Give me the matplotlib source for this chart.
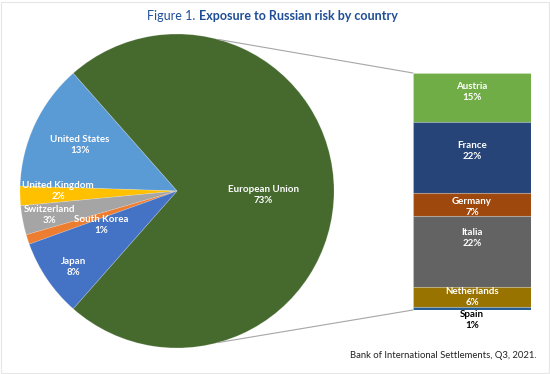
import numpy as np
import matplotlib.pyplot as plt
from matplotlib.patches import ConnectionPatch, Rectangle

# donnees
pie_labels = ['European Union', 'United States', 'United Kingdom', 'Switzerland', 'South Korea', 'Japan']
pie_values = [73, 13, 2, 3, 1, 8]
eu_labels = ['Austria', 'France', 'Germany', 'Italia', 'Netherlands', 'Spain']
eu_values = [15, 22, 7, 22, 6, 1]

pie_colors = ['#466A2E', '#5B9BD5', '#FFC000', '#A5A5A5', '#ED7D31', '#4472C4']
eu_colors = ['#70AD47', '#264478', '#9E480E', '#636363', '#997300', '#255E91']

# positions des etiquettes (mise en page)
pie_label_pos = [(0.548, -0.025), (-0.618, 0.293), (-0.758, 0.0),
                 (-0.809, -0.153), (-0.484, -0.217), (-0.662, -0.484)]
eu_label_y = [5.8, 24.0, 41.2, 50.8, 68.9, 76.0]

plt.rcParams['font.family'] = ['Lato', 'DejaVu Sans']

fig = plt.figure(figsize=(5.5, 3.74), dpi=100)
fig.patch.set_facecolor('white')
fig.add_artist(Rectangle((0.002, 0.004), 0.996, 0.99, transform=fig.transFigure,
                         fill=False, edgecolor='#E6E6E6', lw=0.8))

# camembert principal
ax_pie = fig.add_axes([20 / 550, 26 / 374, 314 / 550, 314 / 374])
ang = 360 * pie_values[0] / 100 / 2
ax_pie.pie(pie_values, colors=pie_colors, startangle=-ang, radius=1,
           wedgeprops=dict(edgecolor=(1, 1, 1, 0.2), linewidth=0.6))
ax_pie.set_xlim(-1, 1)
ax_pie.set_ylim(-1, 1)
ax_pie.set_aspect('equal')
ax_pie.axis('off')

for lab, val, (x, y) in zip(pie_labels, pie_values, pie_label_pos):
    ax_pie.text(x, y, f'{lab}\n{val}%', ha='center', va='center', color='white',
                fontsize=7, fontweight='bold', linespacing=1.25)

# barre empilee pour l'UE
ax_bar = fig.add_axes([413 / 550, (374 - 310) / 374, 118 / 550, 237 / 374])
bottom = np.concatenate([[0], np.cumsum(eu_values)[:-1]])
ax_bar.bar(0, eu_values, bottom=bottom, width=1, color=eu_colors,
           edgecolor=(1, 1, 1, 0.2), linewidth=0.8)
ax_bar.set_xlim(-0.5, 0.5)
ax_bar.set_ylim(sum(eu_values), 0)
ax_bar.axis('off')

for lab, val, y in zip(eu_labels, eu_values, eu_label_y):
    col = 'black' if lab == 'Spain' else 'white'
    ax_bar.text(0, y, f'{lab}\n{val}%', ha='center', va='center', color=col,
                fontsize=7, fontweight='bold', linespacing=1.25, clip_on=False)

# lignes de liaison
a = np.deg2rad(75)
for sgn, yb in [(1, 0), (-1, sum(eu_values))]:
    con = ConnectionPatch(xyA=(np.cos(a), sgn * np.sin(a)), coordsA=ax_pie.transData,
                          xyB=(-0.5, yb), coordsB=ax_bar.transData,
                          color='#A6A6A6', lw=0.8)
    fig.add_artist(con)

# titre
tx = 199 / 550
fig.text(tx, 0.957, 'Figure 1. ', ha='right', va='center', color='#1F4E96', fontsize=9)
fig.text(tx, 0.957, 'Exposure to Russian risk by country', ha='left', va='center',
         color='#1F4E96', fontsize=9, fontweight='bold')

fig.text(537 / 550, 1 - 356 / 374, 'Bank of International Settlements, Q3, 2021.',
         ha='right', va='center', fontsize=6.8, color='#222222')

fig.savefig('out.png', dpi=100)
